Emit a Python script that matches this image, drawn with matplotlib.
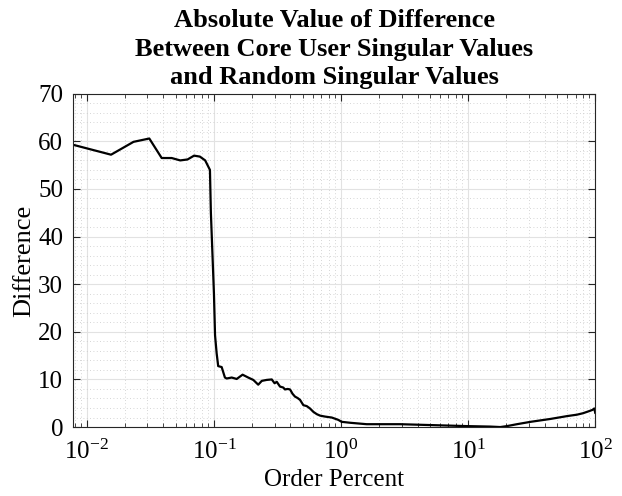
"""Absolute difference between core user and random singular values."""

import matplotlib

matplotlib.use("Agg")

import matplotlib.pyplot as plt
from matplotlib.ticker import LogLocator, MultipleLocator, NullFormatter

plt.rcParams["font.family"] = ["Liberation Serif", "DejaVu Serif"]
plt.rcParams["mathtext.fontset"] = "stix"

# order percent (x) and absolute difference (y)
order_percent = [
    0.00775, 0.0155, 0.0233, 0.031, 0.0388, 0.0465, 0.0543, 0.062, 0.0698,
    0.0775, 0.0853, 0.093, 0.0946, 0.1, 0.102, 0.105, 0.108, 0.115, 0.122,
    0.126, 0.138, 0.151, 0.168, 0.186, 0.204, 0.223, 0.238, 0.26, 0.285,
    0.3, 0.312, 0.331, 0.351, 0.362, 0.38, 0.397, 0.415, 0.434, 0.455,
    0.476, 0.505, 0.537, 0.57, 0.605, 0.645, 0.684, 0.748, 0.845, 0.953,
    1.01, 1.18, 1.59, 2.92, 5.3, 9.77, 14.9, 17.9, 20.2, 24.2, 31.0, 44.3,
    60.0, 71.8, 80.0, 88.5, 95.0, 98.2, 100.0,
]
difference = [
    59.3, 57.2, 59.9, 60.6, 56.5, 56.5, 56.0, 56.2, 57.0,
    56.8, 56.0, 54.0, 45.0, 28.0, 19.3, 15.5, 12.8, 12.6, 10.4,
    10.2, 10.4, 10.1, 11.0, 10.4, 9.9, 8.9, 9.7, 9.9, 10.0,
    9.2, 9.5, 8.5, 8.3, 7.9, 8.0, 7.9, 7.0, 6.4, 6.1,
    5.7, 4.6, 4.4, 3.9, 3.2, 2.7, 2.4, 2.2, 2.0, 1.5,
    1.1, 0.9, 0.6, 0.6, 0.4, 0.2, 0.1, 0.0, 0.2, 0.6, 1.1, 1.7,
    2.3, 2.6, 2.9, 3.3, 3.6, 3.9, 3.0,
]

fig = plt.figure(figsize=(6.22, 4.96), dpi=100)
ax = fig.add_axes([0.117, 0.139, 0.840, 0.672])

ax.plot(order_percent, difference, color="black", linewidth=1.6)

ax.set_xscale("log")
ax.set_xlim(0.00775, 100)
ax.set_ylim(0, 70)
ax.set_yticks(range(0, 71, 10))
ax.yaxis.set_minor_locator(MultipleLocator(2))
ax.xaxis.set_major_locator(LogLocator(base=10, numticks=10))
ax.xaxis.set_minor_locator(LogLocator(base=10, subs=range(2, 10), numticks=20))
ax.xaxis.set_minor_formatter(NullFormatter())

ax.grid(True, which="major", color="#e2e2e2", linewidth=0.8)
ax.grid(True, which="minor", color="#c8c8c8", linestyle=(0, (1, 3)), linewidth=0.6)
ax.set_axisbelow(True)

ax.tick_params(which="both", direction="in", top=True, right=True,
               labelsize=18, colors="#262626", labelcolor="black")
ax.tick_params(which="major", length=5)
ax.tick_params(axis="x", which="major", pad=9)
ax.tick_params(axis="y", which="major", pad=7)
ax.tick_params(axis="x", which="minor", length=3)
ax.tick_params(axis="y", which="minor", length=0)
for spine in ax.spines.values():
    spine.set_color("#262626")
    spine.set_linewidth(0.8)

ax.set_xlabel("Order Percent", fontsize=18, labelpad=4)
ax.set_ylabel("Difference", fontsize=19, labelpad=2)
ax.set_title("Absolute Value of Difference\nBetween Core User Singular Values\n"
             "and Random Singular Values", fontsize=19, fontweight="bold",
             linespacing=1.3, pad=7)

fig.savefig("out.png", dpi=100)
plt.close(fig)
